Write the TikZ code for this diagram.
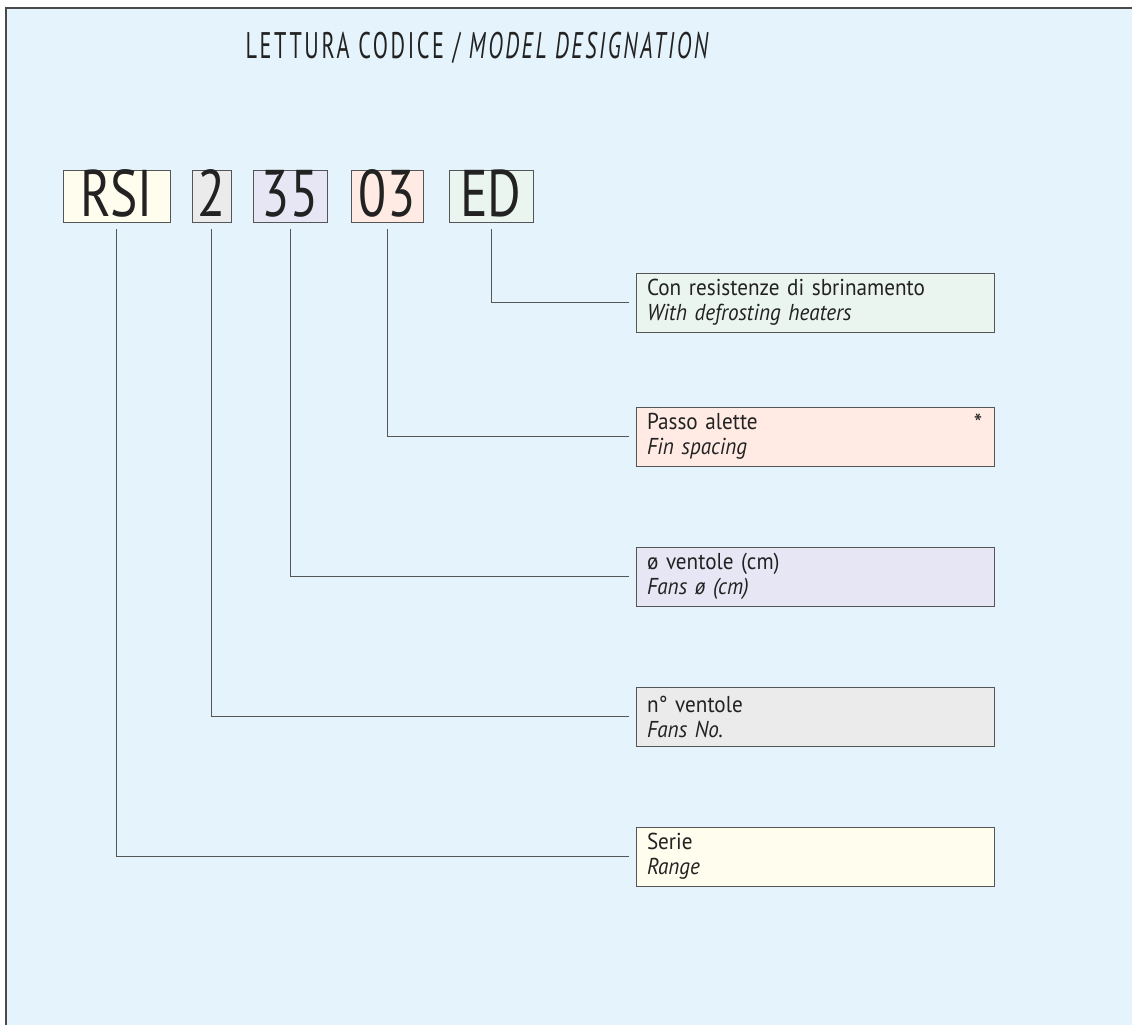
\documentclass[tikz,border=0pt]{standalone}
\usepackage{fontspec}
\setmainfont{PT Sans}
\newfontfamily\condfont[FakeStretch=0.78]{PT Sans}
\newfontfamily\descfont[FakeStretch=0.92]{PT Sans}
\newfontfamily\titlefont[FakeStretch=0.6,LetterSpace=7]{PT Sans}
\definecolor{bgblue}{HTML}{E5F4FC}
\definecolor{framec}{HTML}{4A4A4A}
\definecolor{linec}{HTML}{555555}
\definecolor{cream}{HTML}{FFFDEE}
\definecolor{greyf}{HTML}{EBEBEB}
\definecolor{lav}{HTML}{E6E6F5}
\definecolor{peach}{HTML}{FFEBE3}
\definecolor{mint}{HTML}{E9F5EE}
\definecolor{textc}{HTML}{222222}
\begin{document}
\begin{tikzpicture}[x=1pt,y=-1pt,
  codebox/.style={draw=linec, line width=1pt, inner sep=0pt, minimum height=52pt,
    text height=39pt, text depth=0pt, font=\condfont\fontsize{66}{66}\selectfont, text=textc},
  descbox/.style={draw=linec, line width=1pt, minimum width=358pt, minimum height=59pt,
    text width=336pt, inner xsep=11pt, inner ysep=0pt, align=left,
    font=\descfont\fontsize{23}{25}\selectfont, text=textc},
  conn/.style={draw=linec, line width=0.9pt}]
\useasboundingbox (0,0) rectangle (1132,1025);
\fill[bgblue] (6,8) rectangle (1132,1025);
\draw[framec, line width=1.5pt] (6,1025) -- (6,8) -- (1132,8);

\node[text=textc, font=\titlefont\fontsize{37}{37}\selectfont, anchor=base] (title) at (478.5,59)
  {LETTURA CODICE / \textit{MODEL DESIGNATION}};

\node[codebox, fill=cream, minimum width=107pt] (rsi) at (116.5,196.7) {RSI};
\node[codebox, fill=greyf, minimum width=39pt] (two) at (211.5,196.7) {2};
\node[codebox, fill=lav, minimum width=74pt] (tf) at (290,196.7) {35};
\node[codebox, fill=peach, minimum width=72pt] (zt) at (387,196.7) {03};
\node[codebox, fill=mint, minimum width=84pt] (ed) at (491,196.7) {ED};

\node[descbox, fill=mint] (dED) at (815,302.5) {Con resistenze di sbrinamento\\\textit{With defrosting heaters}};
\node[descbox, fill=peach] (dZT) at (815,436.5) {Passo alette\\\textit{Fin spacing}};
\node[text=textc, font=\descfont\fontsize{26}{26}\selectfont, inner sep=0pt] (star) at (978,423) {*};
\node[descbox, fill=lav] (dTF) at (815,576.5) {ø ventole (cm)\\\textit{Fans ø (cm)}};
\node[descbox, fill=greyf] (dTWO) at (815,716.5) {n° ventole\\\textit{Fans No.}};
\node[descbox, fill=cream] (dRSI) at (815,856.5) {Serie\\\textit{Range}};

\draw[conn] ([yshift=-6pt]ed.south) |- ([xshift=-7pt]dED.west);
\draw[conn] ([yshift=-6pt]zt.south) |- ([xshift=-7pt]dZT.west);
\draw[conn] ([yshift=-6pt]tf.south) |- ([xshift=-7pt]dTF.west);
\draw[conn] ([yshift=-6pt]two.south) |- ([xshift=-7pt]dTWO.west);
\draw[conn] ([yshift=-6pt]rsi.south) |- ([xshift=-7pt]dRSI.west);
\end{tikzpicture}
\end{document}
